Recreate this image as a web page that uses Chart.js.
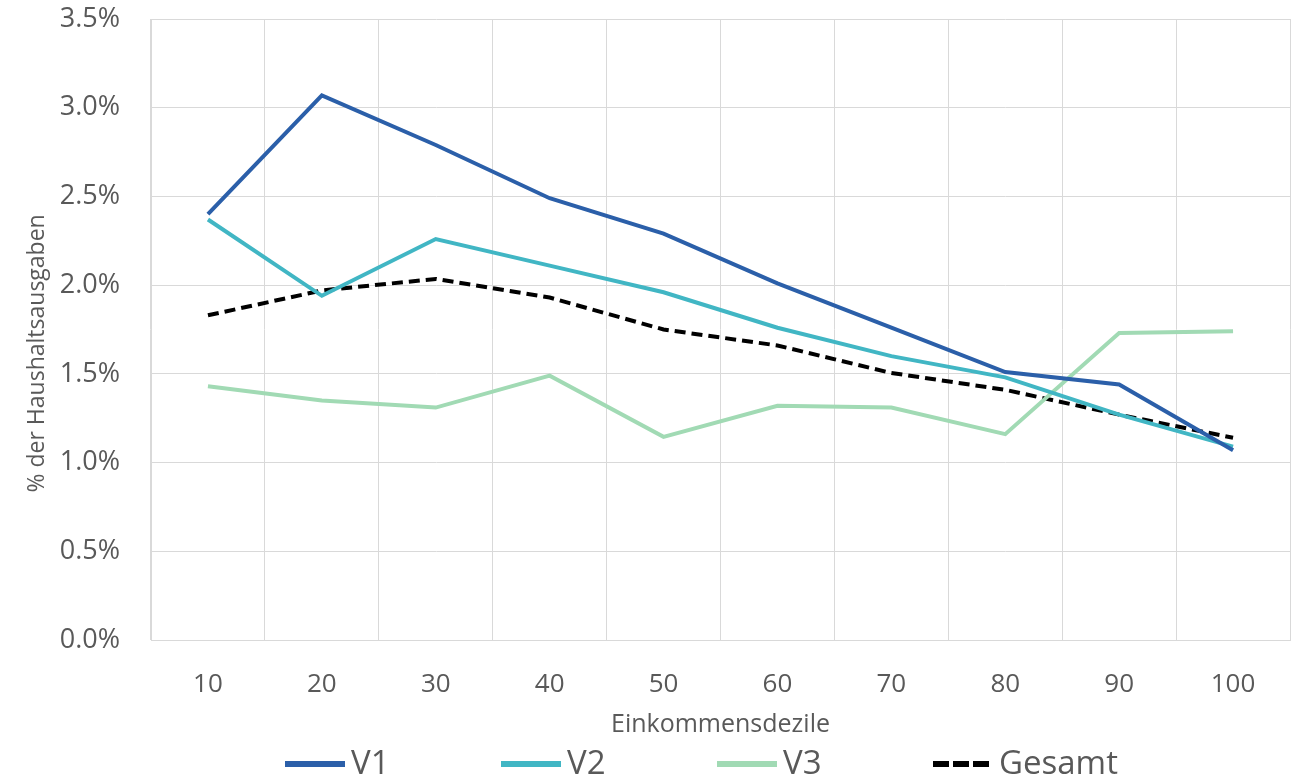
<!DOCTYPE html>
<html>
<head>
<meta charset="utf-8">
<script src="https://cdn.jsdelivr.net/npm/chart.js@4"></script>
<style>
  html, body { margin: 0; padding: 0; background: #fff; }
  #wrap { width: 1299px; height: 782px; position: relative; }
</style>
</head>
<body>
<div id="wrap"><canvas id="chart"></canvas></div>
<script>
// Einkommensdezile (x categories)
var deciles = ['10', '20', '30', '40', '50', '60', '70', '80', '90', '100'];

// % der Haushaltsausgaben
var v1     = [2.40, 3.07, 2.79, 2.49, 2.29, 2.01, 1.76, 1.51, 1.44, 1.07];
var v2     = [2.37, 1.94, 2.26, 2.11, 1.96, 1.76, 1.60, 1.48, 1.27, 1.09];
var v3     = [1.43, 1.35, 1.31, 1.49, 1.145, 1.32, 1.31, 1.16, 1.73, 1.74];
var gesamt = [1.83, 1.97, 2.035, 1.93, 1.75, 1.66, 1.505, 1.41, 1.27, 1.14];

var gridColor = '#d9d9d9';
var textColor = '#595959';
var font = "'Open Sans', 'DejaVu Sans', sans-serif";

function line(label, data, color, dash) {
    return {
        label: label,
        data: data,
        borderColor: color,
        backgroundColor: color,
        borderWidth: 4,
        borderDash: dash || [],
        pointRadius: 0,
        tension: 0,
        fill: false
    };
}

// Excel-style legend: evenly spaced slots below the axis title
var bottomLegend = {
    id: 'bottomLegend',
    afterDraw: function (c) {
        var ctx = c.ctx;
        var y = c.height - 18;
        var x = c.chartArea.left + 134;
        c.data.datasets.forEach(function (ds) {
            var dashed = ds.borderDash.length > 0;
            ctx.save();
            ctx.strokeStyle = ds.borderColor;
            ctx.lineWidth = 6;
            ctx.setLineDash(dashed ? [16, 4] : []);
            ctx.beginPath();
            ctx.moveTo(x, y);
            ctx.lineTo(x + (dashed ? 56 : 60), y);
            ctx.stroke();
            ctx.fillStyle = textColor;
            ctx.font = '33px ' + font;
            ctx.textBaseline = 'middle';
            ctx.fillText(ds.label, x + 66, y + 1);
            ctx.restore();
            x += 216;
        });
    }
};

var chart = new Chart(document.getElementById('chart'), {
    type: 'line',
    data: {
        labels: deciles,
        datasets: [
            line('V1', v1, '#2b5fa9'),
            line('V2', v2, '#41b6c4'),
            line('V3', v3, '#a1dab4'),
            line('Gesamt', gesamt, '#000000', [11, 6])
        ]
    },
    plugins: [bottomLegend],
    options: {
        responsive: true,
        maintainAspectRatio: false,
        animation: false,
        layout: { padding: { top: 19, right: 9, left: 0, bottom: 42 } },
        plugins: {
            tooltip: { enabled: false },
            legend: { display: false }
        },
        scales: {
            x: {
                offset: true,
                grid: { offset: true, color: gridColor, drawTicks: false },
                border: { color: gridColor },
                afterFit: function (s) { s.height = 100; },
                ticks: {
                    padding: 29,
                    color: textColor,
                    font: { family: font, size: 26 }
                },
                title: {
                    display: true,
                    text: 'Einkommensdezile',
                    color: textColor,
                    font: { family: font, size: 25 },
                    padding: { top: 0, bottom: 0 }
                }
            },
            y: {
                min: 0,
                max: 3.5,
                grid: { color: gridColor, drawTicks: false },
                border: { color: gridColor },
                afterFit: function (s) {
                    s.width = 151;
                    s.paddingTop = 0;
                    s.paddingBottom = 0;
                },
                ticks: {
                    stepSize: 0.5,
                    padding: 31,
                    color: textColor,
                    font: { family: font, size: 27 },
                    callback: function (v) { return v.toFixed(1) + '%'; }
                },
                title: {
                    display: true,
                    // trailing spaces push the centred title a little lower, as in Excel
                    text: '% der Haushaltsausgaben        ',
                    color: textColor,
                    font: { family: font, size: 23 },
                    padding: { top: 24, bottom: 0 }
                }
            }
        }
    }
});
</script>
</body>
</html>
